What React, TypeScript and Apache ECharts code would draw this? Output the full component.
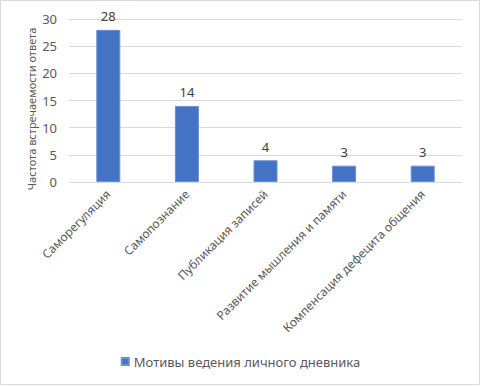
import React, { useEffect, useRef } from "react";
import * as echarts from "echarts";

const categories = [
  "Саморегуляция",
  "Самопознание",
  "Публикация записей",
  "Развитие мышления и памяти",
  "Компенсация дефецита общения",
];
const values = [28, 14, 4, 3, 3];
const seriesName = "Мотивы ведения личного дневника";
const yAxisName = "Частота встречаемости ответа";

export default function App() {
  const ref = useRef<HTMLDivElement>(null);
  useEffect(() => {
    if (!ref.current) return;
    const chart = echarts.init(ref.current, null, { renderer: "svg" });
    const font = "'Noto Sans', sans-serif";
    chart.setOption({
      animation: false,
      textStyle: { fontFamily: font },
      graphic: [
        {
          type: "rect",
          shape: { x: 0.5, y: 0.5, width: 479, height: 384 },
          style: { fill: "none", stroke: "#D9D9D9", lineWidth: 1 },
        },
        {
          type: "text",
          x: 31,
          y: 109,
          rotation: Math.PI / 2,
          style: {
            text: yAxisName,
            fill: "#595959",
            fontSize: 11,
            fontFamily: font,
            align: "center",
            verticalAlign: "middle",
          },
        },
      ],
      grid: { left: 69, right: 19, top: 19, bottom: 204 },
      legend: {
        data: [seriesName],
        bottom: 13,
        left: "center",
        icon: "rect",
        itemWidth: 7,
        itemHeight: 7,
        itemGap: 5,
        textStyle: { color: "#595959", fontSize: 13, fontFamily: font },
      },
      xAxis: {
        type: "category",
        data: categories,
        axisLine: { lineStyle: { color: "#D9D9D9", width: 1 } },
        axisTick: { show: false },
        axisLabel: {
          rotate: 45,
          interval: 0,
          margin: 10,
          color: "#595959",
          fontSize: 12,
          fontFamily: font,
        },
      },
      yAxis: {
        type: "value",
        min: 0,
        max: 30,
        interval: 5,
        axisLine: { show: false },
        axisTick: { show: false },
        splitLine: { lineStyle: { color: "#D9D9D9", width: 1 } },
        axisLabel: { color: "#595959", fontSize: 13, margin: 12, fontFamily: font },
      },
      series: [
        {
          name: seriesName,
          type: "bar",
          data: values,
          barWidth: 24,
          itemStyle: { color: "#4472C4", borderColor: "#6A8FD4", borderWidth: 1 },
          label: {
            show: true,
            position: "top",
            distance: 7,
            color: "#404040",
            fontSize: 13,
            fontFamily: font,
          },
        },
      ],
    });
    return () => chart.dispose();
  }, []);
  return (
    <div
      ref={ref}
      style={{ position: "fixed", left: 0, top: 0, width: 481, height: 386, background: "#fff" }}
    />
  );
}
